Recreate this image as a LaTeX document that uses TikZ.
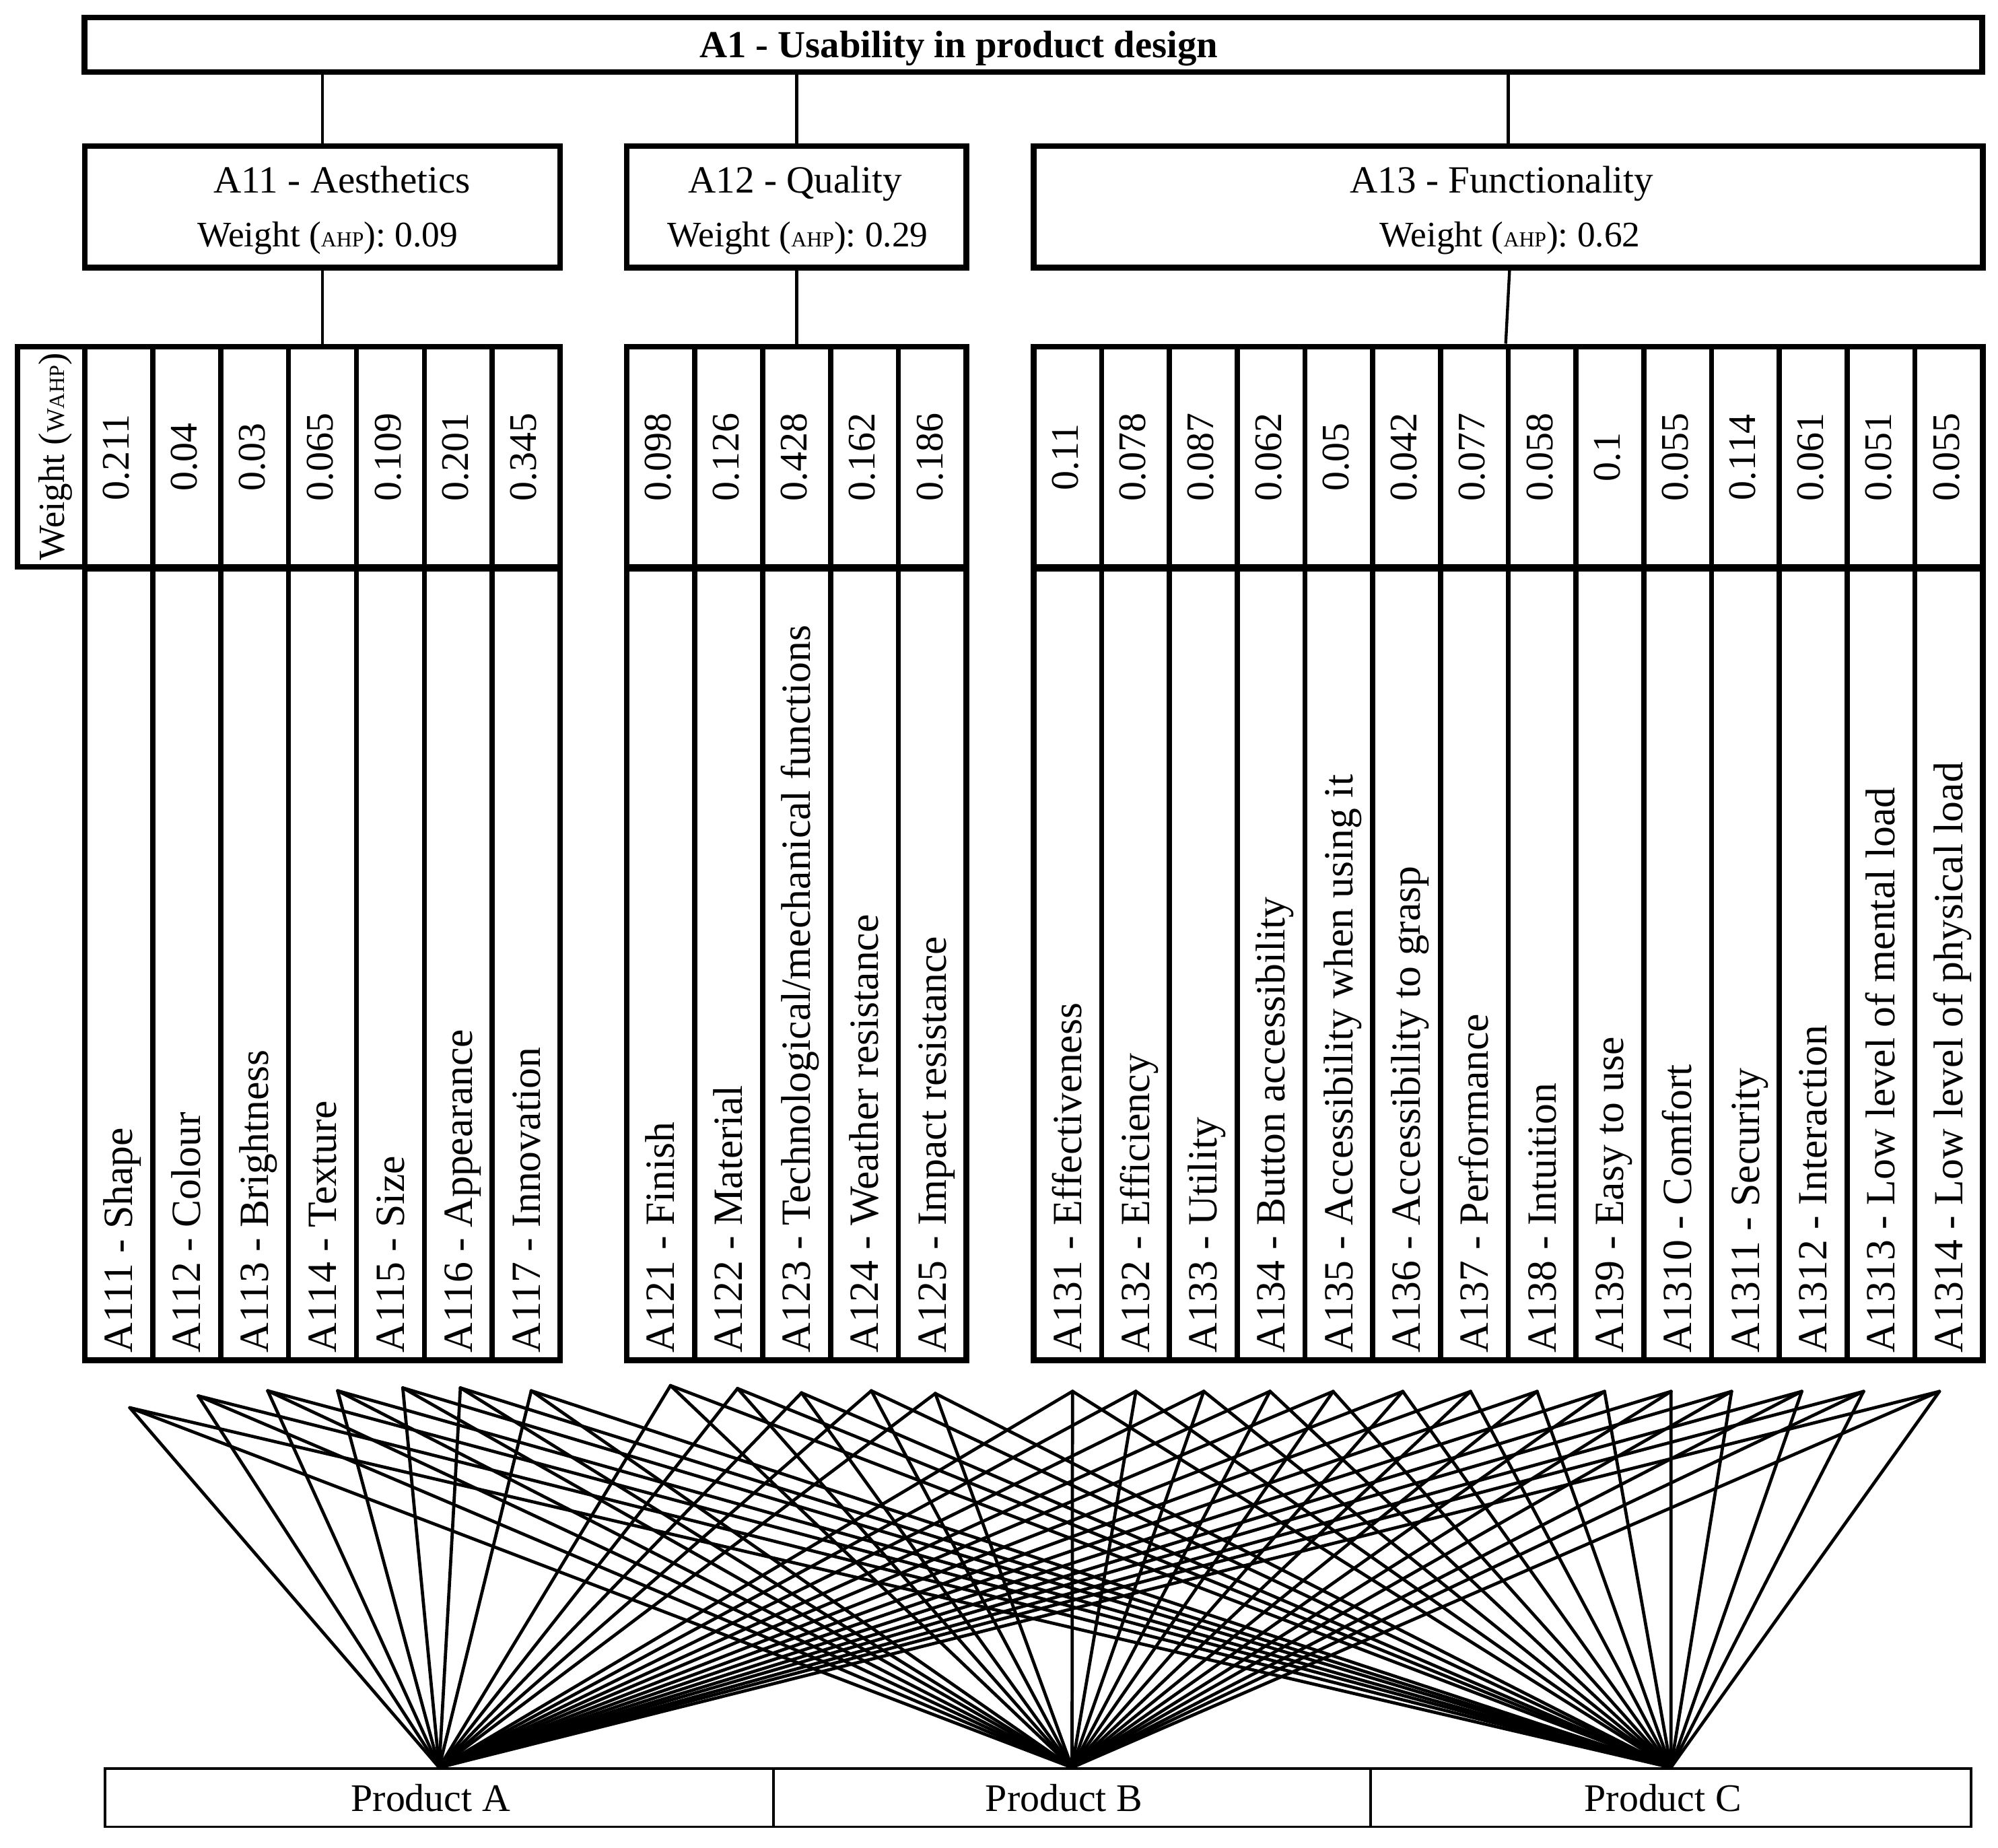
\documentclass[tikz,border=0pt]{standalone}
\usepackage{fontspec}
\setmainfont{Liberation Serif}
\usetikzlibrary{fit}
\newcommand{\ahpsmall}{{\fontsize{8.4}{9}\selectfont AHP}}
\begin{document}
\begin{tikzpicture}[x=0.5pt,y=-0.5pt,
  boxl/.style={draw, line width=2.3pt, inner sep=0pt},
  sepl/.style={line width=2pt},
  conn/.style={line width=1.15pt},
  fan/.style={line width=1.25pt, line cap=round},
  prod/.style={draw, line width=1pt, inner sep=0pt},
  ttl/.style={font=\fontsize{15}{18}\selectfont\bfseries, anchor=base, inner sep=0pt},
  hdrone/.style={font=\fontsize{15.1}{18}\selectfont, anchor=base, inner sep=0pt},
  hdrtwo/.style={font=\fontsize{14.1}{18}\selectfont, anchor=base, inner sep=0pt},
  num/.style={font=\fontsize{15.3}{18}\selectfont, rotate=90, inner sep=0pt},
  lab/.style={font=\fontsize{16.3}{18}\selectfont, rotate=90, anchor=base west, inner sep=0pt},
  wlab/.style={font=\fontsize{14.5}{18}\selectfont, rotate=90, anchor=base west, inner sep=0pt},
  prodtxt/.style={font=\fontsize{15.3}{18}\selectfont, anchor=base, inner sep=0pt},
]
\useasboundingbox (0,0) rectangle (1568,1450);
\fill[white] (0,0) rectangle (1568,1450);

% ---------- top box ----------
\node[boxl, fit={(66.4,13.7) (1555.7,56.6)}] (A1) {};
\node[ttl] (A1t) at (752.5,45) {A1 - Usability in product design};

% ---------- criteria boxes ----------
\node[boxl, fit={(66.6,114.6) (439.6,210)}] (A11) {};
\node[boxl, fit={(491.9,114.6) (758.4,210)}] (A12) {};
\node[boxl, fit={(811.3,114.6) (1556,210)}] (A13) {};

\node[hdrone] (A11a) at (268.5,151.4) {A11 - Aesthetics};
\node[hdrtwo] (A11b) at (257,193.7) {Weight (\ahpsmall): 0.09};
\node[hdrone] (A12a) at (624,151.4) {A12 - Quality};
\node[hdrtwo] (A12b) at (626,193.7) {Weight (\ahpsmall): 0.29};
\node[hdrone] (A13a) at (1178.5,151.4) {A13 - Functionality};
\node[hdrtwo] (A13b) at (1185,193.7) {Weight (\ahpsmall): 0.62};

% ---------- weight rows and label rows ----------
\node[boxl, fit={(13.7,272) (439.6,444.9)}] (W11) {};
\node[boxl, fit={(66.6,446.3) (439.6,1067.6)}] (L11) {};
\node[boxl, fit={(491.9,272) (758.4,444.9)}] (W12) {};
\node[boxl, fit={(491.9,446.3) (758.4,1067.6)}] (L12) {};
\node[boxl, fit={(811.3,272) (1556,444.9)}] (W13) {};
\node[boxl, fit={(811.3,446.3) (1556,1067.6)}] (L13) {};

\draw[sepl] (66.6,272) -- (66.6,444.9);
\foreach \x in {119.89,173.17,226.46,279.74,333.03,386.31,
                545.2,598.5,651.8,705.1,
                864.49,917.69,970.88,1024.07,1077.27,1130.46,1183.65,
                1236.84,1290.04,1343.23,1396.42,1449.62,1502.81}
  \draw[sepl] (\x,272) -- (\x,1067.6);

% weight label
\node[wlab] (wl) at (50.5,440) {Weight ({\fontsize{10}{10}\selectfont W}{\fontsize{8.5}{9}\selectfont AHP})};

% numbers - aesthetics
\node[num] (n111) at (91.2,358.8) {0.211};
\node[num] (n112) at (144.5,358.8) {0.04};
\node[num] (n113) at (197.8,358.8) {0.03};
\node[num] (n114) at (251.1,358.8) {0.065};
\node[num] (n115) at (304.4,358.8) {0.109};
\node[num] (n116) at (357.7,358.8) {0.201};
\node[num] (n117) at (411.0,358.8) {0.345};
% numbers - quality
\node[num] (n121) at (516.5,358.8) {0.098};
\node[num] (n122) at (569.8,358.8) {0.126};
\node[num] (n123) at (623.1,358.8) {0.428};
\node[num] (n124) at (676.4,358.8) {0.162};
\node[num] (n125) at (729.7,358.8) {0.186};
% numbers - functionality
\node[num] (n131) at (835.9,358.8) {0.11};
\node[num] (n132) at (889.1,358.8) {0.078};
\node[num] (n133) at (942.3,358.8) {0.087};
\node[num] (n134) at (995.5,358.8) {0.062};
\node[num] (n135) at (1048.7,358.8) {0.05};
\node[num] (n136) at (1101.9,358.8) {0.042};
\node[num] (n137) at (1155.1,358.8) {0.077};
\node[num] (n138) at (1208.3,358.8) {0.058};
\node[num] (n139) at (1261.4,358.8) {0.1};
\node[num] (n1310) at (1314.6,358.8) {0.055};
\node[num] (n1311) at (1367.8,358.8) {0.114};
\node[num] (n1312) at (1421.0,358.8) {0.061};
\node[num] (n1313) at (1474.2,358.8) {0.051};
\node[num] (n1314) at (1527.4,358.8) {0.055};

% labels - aesthetics
\node[lab] (l111) at (103.9,1062) {A111 - Shape};
\node[lab] (l112) at (157.2,1062) {A112 - Colour};
\node[lab] (l113) at (210.5,1062) {A113 - Brightness};
\node[lab] (l114) at (263.8,1062) {A114 - Texture};
\node[lab] (l115) at (317.1,1062) {A115 - Size};
\node[lab] (l116) at (370.4,1062) {A116 - Appearance};
\node[lab] (l117) at (423.7,1062) {A117 - Innovation};
% labels - quality
\node[lab] (l121) at (529.2,1062) {A121 - Finish};
\node[lab] (l122) at (582.5,1062) {A122 - Material};
\node[lab] (l123) at (635.8,1062) {A123 - Technological/mechanical functions};
\node[lab] (l124) at (689.1,1062) {A124 - Weather resistance};
\node[lab] (l125) at (742.4,1062) {A125 - Impact resistance};
% labels - functionality
\node[lab] (l131) at (848.6,1062) {A131 - Effectiveness};
\node[lab] (l132) at (901.8,1062) {A132 - Efficiency};
\node[lab] (l133) at (955.0,1062) {A133 - Utility};
\node[lab] (l134) at (1008.2,1062) {A134 - Button accessibility};
\node[lab] (l135) at (1061.4,1062) {A135 - Accessibility when using it};
\node[lab] (l136) at (1114.6,1062) {A136 - Accessibility to grasp};
\node[lab] (l137) at (1167.8,1062) {A137 - Performance};
\node[lab] (l138) at (1221.0,1062) {A138 - Intuition};
\node[lab] (l139) at (1274.1,1062) {A139 - Easy to use};
\node[lab] (l1310) at (1327.3,1062) {A1310 - Comfort};
\node[lab] (l1311) at (1380.5,1062) {A1311 - Security};
\node[lab] (l1312) at (1433.7,1062) {A1312 - Interaction};
\node[lab] (l1313) at (1486.9,1062) {A1313 - Low level of mental load};
\node[lab] (l1314) at (1540.1,1062) {A1314 - Low level of physical load};

% ---------- hierarchy connectors ----------
\draw[conn] (A1.south -| A11.north) -- (A11.north);
\draw[conn] (A11.south) -- (A11.south |- W11.north);
\draw[conn] (A1.south -| A12.north) -- (A12.north);
\draw[conn] (A12.south) -- (A12.south |- W12.north);
\draw[conn] (A1.south -| A13.north) -- (A13.north);
\draw[conn] ([xshift=0.5pt]A13.south) -- ([xshift=-1pt]A13.south |- W13.north);

% ---------- products ----------
\node[prod, fit={(82.3,1388) (607,1433.5)}] (PA) {};
\node[prod, fit={(607,1388) (1075.6,1433.5)}] (PB) {};
\node[prod, fit={(1075.6,1388) (1547,1433.5)}] (PC) {};
\node[prodtxt] (PAt) at (338,1421.5) {Product A};
\node[prodtxt] (PBt) at (835,1421.5) {Product B};
\node[prodtxt] (PCt) at (1305,1421.5) {Product C};

% ---------- fan tops ----------
\coordinate (t1) at (101.9,1104.7);
\coordinate (t2) at (155.6,1095.4);
\coordinate (t3) at (210.1,1091.4);
\coordinate (t4) at (265,1091.4);
\coordinate (t5) at (316.1,1089.1);
\coordinate (t6) at (361.3,1089.1);
\coordinate (t7) at (416.9,1091.4);
\coordinate (t8) at (526.2,1087.3);
\coordinate (t9) at (578.8,1089.6);
\coordinate (t10) at (629,1093);
\coordinate (t11) at (683.8,1091.4);
\coordinate (t12) at (734,1093.5);
\coordinate (t13) at (841.7,1091.8);
\coordinate (t14) at (891.4,1091.8);
\coordinate (t15) at (944.7,1091.8);
\coordinate (t16) at (996.7,1091.8);
\coordinate (t17) at (1046.2,1091.9);
\coordinate (t18) at (1100.9,1091.9);
\coordinate (t19) at (1154.1,1091.9);
\coordinate (t20) at (1206.3,1091.9);
\coordinate (t21) at (1259.2,1091.9);
\coordinate (t22) at (1311.4,1091.9);
\coordinate (t23) at (1358.9,1091.9);
\coordinate (t24) at (1414,1091.9);
\coordinate (t25) at (1462.5,1091.9);
\coordinate (t26) at (1522,1091.9);

\foreach \i in {1,...,26} {
  \draw[fan] (t\i) -- (PA.north);
  \draw[fan] (t\i) -- (PB.north);
  \draw[fan] (t\i) -- (PC.north);
}
\end{tikzpicture}
\end{document}
